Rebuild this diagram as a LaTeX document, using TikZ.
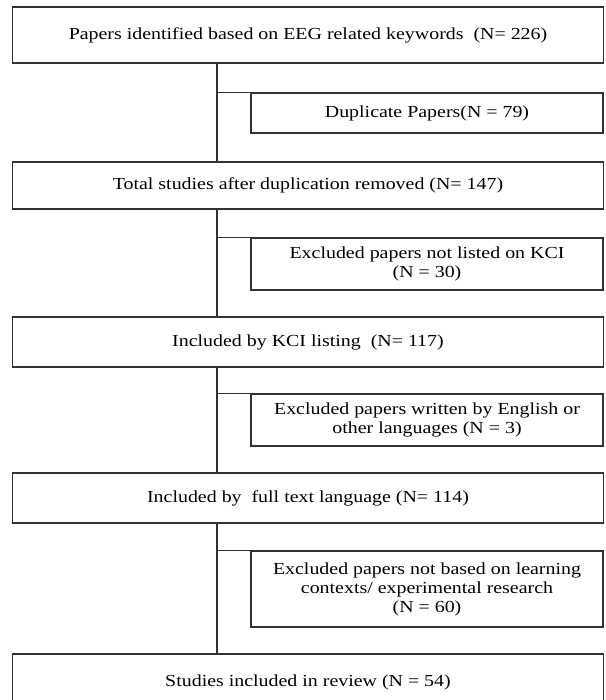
\documentclass[tikz,border=0pt]{standalone}
\usepackage{fontspec}
\setmainfont{Liberation Serif}[FakeStretch=1.18]
\usetikzlibrary{positioning}

\begin{document}
\begin{tikzpicture}[x=0.025cm, y=-0.025cm]
\definecolor{rim}{RGB}{50,50,50}

\tikzset{
  mainbox/.style={rectangle, draw=rim, line width=0.8pt, inner sep=0pt,
    minimum width=14.75cm, align=center,
    font=\fontsize{12}{13.5}\selectfont},
  exclbox/.style={mainbox, minimum width=8.8cm},
  link/.style={draw=rim, line width=0.8pt}
}

% ======================================================
% cornice
% ======================================================
\clip (0,0) rectangle (606,700);
\fill[white] (0,0) rectangle (606,700);

% tronco
\coordinate (trunk) at (217,0);

% colonna principale
\node[mainbox, minimum height=1.4cm] (found) at (308,35)
  {Papers identified based on EEG related keywords \ (N= 226)};
\node[mainbox, minimum height=1.175cm] (dedup) at (308,185.5)
  {Total studies after duplication removed (N= 147)};
\node[mainbox, minimum height=1.25cm] (kci) at (308,342)
  {Included by KCI listing \ (N= 117)};
\node[mainbox, minimum height=1.25cm] (lang) at (308,498)
  {Included by \ full text language (N= 114)};
\node[mainbox, minimum height=1.4cm] (final) at (308,682)
  {Studies included in review (N = 54)};

% esclusi
\node[exclbox, minimum height=1cm] (dup) at (427,113)
  {Duplicate Papers(N = 79)};
\node[exclbox, minimum height=1.3cm] (nokci) at (427,264)
  {Excluded papers not listed on KCI\\(N = 30)};
\node[exclbox, minimum height=1.3cm] (english) at (427,420)
  {Excluded papers written by English or\\other languages (N = 3)};
\node[exclbox, minimum height=1.9cm] (context) at (427,589)
  {Excluded papers not based on learning\\contexts/ experimental research\\(N = 60)};

% collegamenti
\draw[link] (found.south -| trunk) -- (dedup.north -| trunk);
\draw[link] (dedup.south -| trunk) -- (kci.north -| trunk);
\draw[link] (kci.south -| trunk) -- (lang.north -| trunk);
\draw[link] (lang.south -| trunk) -- (final.north -| trunk);

\foreach \b in {dup,nokci,english,context} {
  \draw[link] (\b.north west -| trunk) -- (\b.north west);
}

\end{tikzpicture}
\end{document}
